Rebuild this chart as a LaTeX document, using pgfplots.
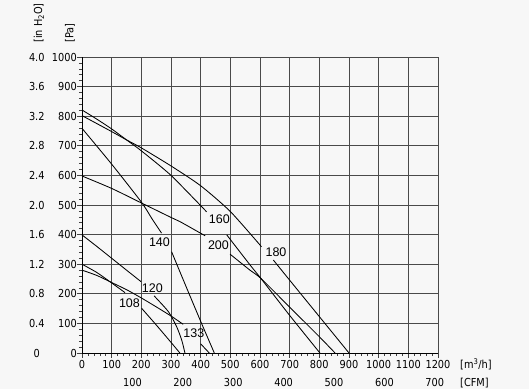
\documentclass[border=0pt]{standalone}
\usepackage{pgfplots}
\pgfplotsset{compat=1.18}
\usepackage{fontspec}
\setmainfont{Liberation Sans}
\newfontfamily\tfont[FakeStretch=0.89]{DejaVu Sans}
\definecolor{bg}{HTML}{F7F7F7}
\definecolor{gridc}{HTML}{4A4A4A}
\newcommand{\tf}{\tfont\fontsize{11bp}{13bp}\selectfont}
\begin{document}
\begin{tikzpicture}[lbl/.style={font=\fontsize{12.5bp}{14bp}\selectfont, inner sep=0pt},
  fc/.style={black, solid, line width=0.85bp, smooth, tension=0.4, mark=none}]
\path[use as bounding box, fill=bg] (0,0) rectangle (529bp,389bp);
\node[rotate=90, anchor=west, inner sep=0pt, font=\tf] at (39bp,346bp) {[in H\textsubscript{2}O]};
\node[rotate=90, anchor=west, inner sep=0pt, font=\tf] at (70bp,346bp) {[Pa]};
\begin{axis}[
  at={(82bp,36bp)}, anchor=south west,
  width=356bp, height=296bp, scale only axis,
  xmin=0, xmax=1200, ymin=0, ymax=1000,
  axis lines=left, axis line style={-, black, line width=0.8bp},
  xtick={0,100,...,1200}, ytick={0,100,...,1000},
  minor x tick num=4, minor y tick num=4,
  tick align=outside, major tick length=5bp, minor tick length=3bp,
  tick style={black!75, line width=0.6bp},
  grid=major, major grid style={gridc, line width=0.7bp},
  xticklabels={0,100,200,300,400,500,600,700,800,900,1000,1100,1200},
  xticklabel style={font=\tf, inner sep=0pt, yshift=-2bp},
  yticklabels={
    {\makebox[20bp][c]{0}\makebox[30bp][r]{0}},
    {\makebox[20bp][c]{0.4}\makebox[30bp][r]{100}},
    {\makebox[20bp][c]{0.8}\makebox[30bp][r]{200}},
    {\makebox[20bp][c]{1.2}\makebox[30bp][r]{300}},
    {\makebox[20bp][c]{1.6}\makebox[30bp][r]{400}},
    {\makebox[20bp][c]{2.0}\makebox[30bp][r]{500}},
    {\makebox[20bp][c]{2.4}\makebox[30bp][r]{600}},
    {\makebox[20bp][c]{2.8}\makebox[30bp][r]{700}},
    {\makebox[20bp][c]{3.2}\makebox[30bp][r]{800}},
    {\makebox[20bp][c]{3.6}\makebox[30bp][r]{900}},
    {\makebox[20bp][c]{4.0}\makebox[30bp][r]{1000}}},
  yticklabel style={font=\tf, inner sep=0pt, anchor=east},
  clip=false,
]
% 160
\addplot[fc] coordinates {(0,821) (50,790) (100,757) (150,720) (200,683) (300,600) (420,477)};
\addplot[fc] coordinates {(488,399) (566,298) (603,252) (700,127) (802,0)};
% 180
\addplot[fc] coordinates {(0,802) (100,748) (150,720) (200,693) (300,632) (400,565) (500,478) (605,359)};
\addplot[fc] coordinates {(645,314) (700,246) (800,123) (900,0)};
% 200
\addplot[fc] coordinates {(0,598) (100,556) (200,507) (300,458) (330,444) (415,396)};
\addplot[fc] coordinates {(499,334) (566,280) (603,252) (700,155) (800,55) (853,0)};
% 140
\addplot[fc] coordinates {(0,759) (100,638) (200,510) (235,455) (268,405)};
\addplot[fc] coordinates {(302,342) (361,200) (403,100) (446,0)};
% 120
\addplot[fc] coordinates {(0,399) (50,360) (100,320) (150,280) (199,241)};
\addplot[fc] coordinates {(243,193) (291,140) (319,89) (336,44) (347,0)};
% 108
\addplot[fc] coordinates {(0,300) (50,272) (94,241) (145,204)};
\addplot[fc] coordinates {(201,151) (250,95) (300,36) (330,0)};
% 133
\addplot[fc] coordinates {(0,280) (50,262) (94,241) (150,214) (200,186) (250,156) (300,125) (341,97)};
\addplot[fc] coordinates {(400,31) (429,0)};
% labels
\node[lbl] at (axis cs:463,452) {160};
\node[lbl] at (axis cs:460,365) {200};
\node[lbl] at (axis cs:654,342) {180};
\node[lbl] at (axis cs:261,374) {140};
\node[lbl] at (axis cs:237,218) {120};
\node[lbl] at (axis cs:160,168) {108};
\node[lbl] at (axis cs:377,66) {133};
% CFM scale
\pgfplotsinvokeforeach{100,200,300,400,500,600,700}{
  \node[font=\tf, inner sep=0pt, anchor=base] at (axis cs:{#1*1.699},0) [yshift=-33bp] {#1};
}
\node[font=\tf, inner sep=0pt, anchor=base west] at (rel axis cs:1,0) [xshift=22bp, yshift=-15bp] {[m\textsuperscript{3}/h]};
\node[font=\tf, inner sep=0pt, anchor=base west] at (rel axis cs:1,0) [xshift=22bp, yshift=-33bp] {[CFM]};
\end{axis}
\end{tikzpicture}
\end{document}
